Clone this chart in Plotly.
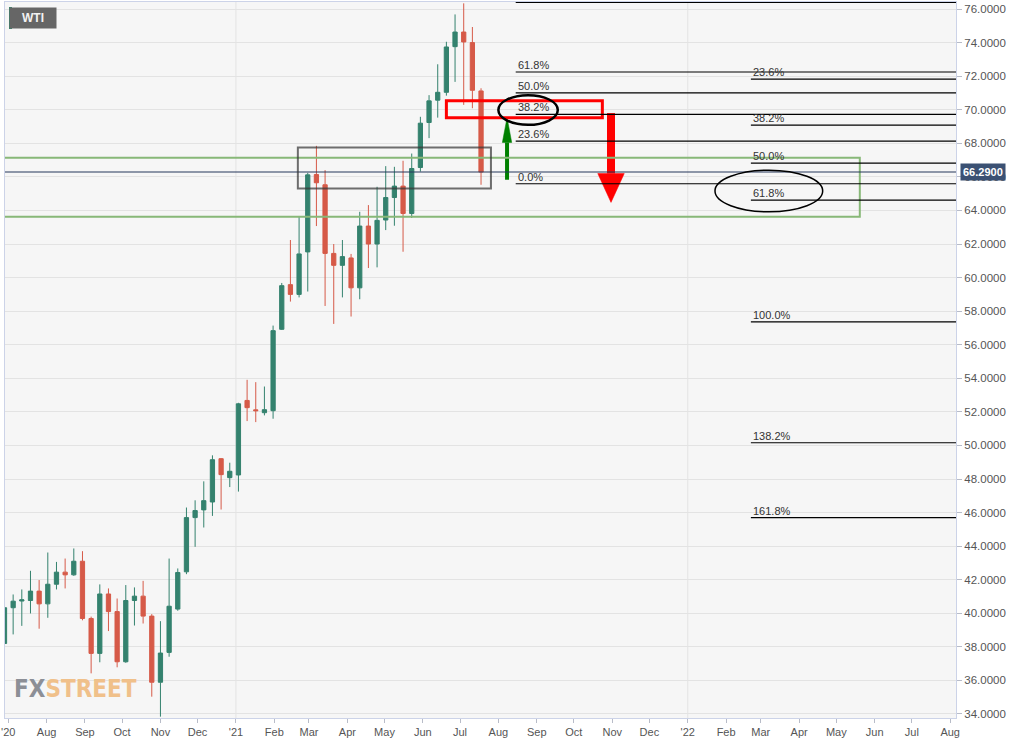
import pandas as pd
import plotly.graph_objects as go

# ---------------- data ----------------
week_start = pd.date_range("2020-06-28", periods=56, freq="7D")

opens = [38.20, 40.33, 40.73, 40.76, 41.32, 40.56, 41.73, 42.45, 42.29, 43.10,
         39.69, 37.61, 41.15, 40.10, 37.11, 40.76, 41.02, 39.83, 35.89, 37.67,
         40.25, 42.47, 45.70, 46.16, 46.63, 49.21, 48.08, 48.24, 52.68, 52.12,
         51.95, 52.07, 56.92, 59.58, 59.00, 61.53, 66.14, 65.53, 61.44, 60.73,
         61.17, 59.39, 63.07, 62.00, 63.43, 64.77, 65.45, 63.82, 66.56, 69.24,
         70.57, 71.04, 73.76, 74.63, 74.00, 71.12]
highs = [40.70, 41.12, 41.42, 42.53, 41.98, 43.62, 43.06, 43.26, 43.86, 43.70,
         39.80, 41.72, 41.48, 40.88, 41.68, 41.54, 41.93, 39.95, 39.53, 43.26,
         42.67, 46.30, 46.73, 47.86, 49.41, 49.25, 48.97, 52.54, 53.91, 53.77,
         53.51, 57.14, 59.68, 62.24, 63.67, 66.24, 67.85, 66.40, 62.00, 62.24,
         61.41, 63.92, 64.32, 65.41, 66.64, 66.60, 66.96, 67.39, 69.58, 70.87,
         72.71, 74.05, 75.68, 76.34, 74.93, 71.28]
lows = [37.60, 38.74, 39.25, 39.99, 39.08, 39.73, 41.42, 41.48, 42.23, 39.58,
        36.42, 37.08, 38.94, 36.78, 37.05, 39.27, 39.39, 35.03, 33.84, 37.41,
        40.15, 42.33, 43.96, 45.11, 45.80, 46.18, 47.52, 47.25, 51.45, 51.39,
        51.79, 51.59, 56.88, 58.57, 58.82, 59.17, 63.07, 58.31, 57.24, 58.82,
        57.68, 58.71, 60.57, 60.61, 62.83, 63.09, 61.54, 63.55, 66.32, 68.31,
        69.53, 70.84, 71.66, 70.29, 70.09, 65.53]
closes = [40.33, 40.72, 40.80, 41.32, 40.56, 41.73, 42.45, 42.29, 43.10, 39.69,
          37.61, 41.15, 40.10, 37.11, 40.76, 41.02, 39.83, 35.89, 37.63, 40.42,
          42.43, 45.70, 46.12, 46.71, 49.15, 48.26, 48.46, 52.48, 52.25, 52.07,
          52.13, 56.84, 59.52, 59.00, 61.41, 66.12, 65.65, 61.44, 60.73, 61.25,
          59.39, 63.07, 62.00, 63.41, 64.77, 65.45, 63.82, 66.50, 69.20, 70.53,
          71.04, 73.74, 74.63, 74.04, 71.16, 66.29]

last_price = 66.29

month_ticks = pd.date_range("2020-07-01", "2022-08-01", freq="MS")
month_labels = ["'20", "Aug", "Sep", "Oct", "Nov", "Dec",
                "'21", "Feb", "Mar", "Apr", "May", "Jun", "Jul", "Aug", "Sep", "Oct", "Nov", "Dec",
                "'22", "Feb", "Mar", "Apr", "May", "Jun", "Jul", "Aug"]
year_marks = ["2021-01-01", "2022-01-01"]

fib_left_labels = ["0.0%", "23.6%", "38.2%", "50.0%", "61.8%", "100.0%"]
fib_left_levels = [65.59, 68.13, 69.73, 71.00, 72.25, 76.39]
fib_left_start = "2021-08-15"

fib_right_labels = ["0.0%", "23.6%", "38.2%", "50.0%", "61.8%", "100.0%", "138.2%", "161.8%"]
fib_right_levels = [76.40, 71.82, 69.08, 66.82, 64.62, 57.36, 50.16, 45.70]
fib_right_start = "2022-02-21"

# drawn zones / annotations (price & date anchors)
support_zone = dict(x0="2020-05-01", x1="2022-05-20", y0=63.63, y1=67.14)
resist_box = dict(x0="2021-02-20", x1="2021-07-26", y0=65.31, y1=67.75)
red_box = dict(x0="2021-06-20", x1="2021-10-24", y0=69.53, y1=70.53)
ellipse_a = dict(x0="2021-08-01", x1="2021-09-18", y0=69.10, y1=70.87)
ellipse_b = dict(x0="2022-01-23", x1="2022-04-20", y0=63.92, y1=66.40)

x_range = ["2020-06-28 10:00", "2022-08-05 17:00"]
y_range = [33.76, 76.42]

GREEN = "#34826e"
RED = "#d65a48"

fig = go.Figure()

fig.add_trace(go.Candlestick(
    x=week_start, open=opens, high=highs, low=lows, close=closes,
    increasing=dict(line=dict(color=GREEN, width=1), fillcolor=GREEN),
    decreasing=dict(line=dict(color=RED, width=1), fillcolor=RED),
    whiskerwidth=0, hoverinfo="skip", showlegend=False,
))

# px -> days conversion for arrow heads
plot_w = 1031 - 1 - 75
days_per_px = (pd.Timestamp(x_range[1]) - pd.Timestamp(x_range[0])) / plot_w


def arrow(xc, y_from, y_neck, y_tip, shaft_px, head_half_px, color):
    xc = pd.Timestamp(xc)
    half = days_per_px * head_half_px
    fig.add_trace(go.Scatter(
        x=[xc, xc], y=[y_from, y_neck], mode="lines",
        line=dict(color=color, width=shaft_px), hoverinfo="skip", showlegend=False))
    fig.add_trace(go.Scatter(
        x=[xc - half, xc + half, xc, xc - half], y=[y_neck, y_neck, y_tip, y_neck],
        mode="lines", fill="toself", fillcolor=color, line=dict(color=color, width=0.5),
        hoverinfo="skip", showlegend=False))


arrow("2021-08-08", 65.83, 68.05, 69.53, 4, 4.7, "#008000")
arrow("2021-10-31", 69.80, 66.20, 64.48, 8, 13.3, "#ff0000")

shapes = []
for d in year_marks:
    shapes.append(dict(type="line", xref="x", yref="paper", x0=d, x1=d, y0=0, y1=1,
                       line=dict(color="#e3e3e3", width=1), layer="below"))

shapes.append(dict(type="rect", xref="x", yref="y", **support_zone,
                   line=dict(color="#88b878", width=2), fillcolor="rgba(0,0,0,0)"))
shapes.append(dict(type="line", xref="paper", yref="y", x0=0, x1=1, y0=last_price, y1=last_price,
                   line=dict(color="#24365a", width=1.2)))
shapes.append(dict(type="rect", xref="x", yref="y", **resist_box,
                   line=dict(color="rgba(55,55,55,0.72)", width=2), fillcolor="rgba(0,0,0,0)"))
shapes.append(dict(type="rect", xref="x", yref="y", **red_box,
                   line=dict(color="#ff0000", width=3), fillcolor="rgba(0,0,0,0)"))

annotations = []
for lbls, lvls, start in [(fib_left_labels, fib_left_levels, fib_left_start),
                          (fib_right_labels, fib_right_levels, fib_right_start)]:
    for t, v in zip(lbls, lvls):
        shapes.append(dict(type="line", xref="x", yref="y", x0=start, x1=x_range[1], y0=v, y1=v,
                           line=dict(color="#000000", width=1.2)))
        annotations.append(dict(x=start, y=v, xref="x", yref="y", text=t, showarrow=False,
                                xanchor="left", yanchor="bottom", yshift=-1,
                                font=dict(family="Liberation Sans, Arial", size=11, color="#333333")))

shapes.append(dict(type="circle", xref="x", yref="y", **ellipse_a,
                   line=dict(color="#000000", width=2.5), fillcolor="rgba(0,0,0,0)"))
shapes.append(dict(type="circle", xref="x", yref="y", **ellipse_b,
                   line=dict(color="#000000", width=1.5), fillcolor="rgba(0,0,0,0)"))

# WTI tag stripe
shapes.append(dict(type="rect", xref="paper", yref="paper", xsizemode="pixel", ysizemode="pixel",
                   xanchor=0, yanchor=1, x0=4, x1=7, y0=-27, y1=-5,
                   fillcolor="#2e8b6e", line=dict(width=0)))

annotations.append(dict(xref="paper", yref="paper", x=0, y=1, xanchor="left", yanchor="top",
                        xshift=4, yshift=-5, text="<b>WTI</b>", showarrow=False,
                        bgcolor="#666666", width=44, height=18, align="center",
                        font=dict(family="Liberation Sans, Arial", size=12, color="#f2f2f2")))

annotations.append(dict(xref="paper", yref="y", x=1, y=last_price, xanchor="left", yanchor="middle",
                        xshift=4, text="<b>66.2900</b>", showarrow=False, bgcolor="#3b5173",
                        borderpad=2,
                        font=dict(family="Liberation Sans, Arial", size=11, color="#ffffff")))

annotations.append(dict(xref="paper", yref="paper", x=0, y=0, xanchor="center", yanchor="bottom",
                        xshift=70, yshift=13,
                        text="<span style='color:#8c8f96'>FX</span><span style='color:#f0c08a'>STREET</span>",
                        showarrow=False,
                        font=dict(family="DejaVu Sans Condensed, Roboto", size=24, weight="bold")))

fig.update_layout(
    width=1031, height=744,
    margin=dict(l=1, r=75, t=1, b=26),
    paper_bgcolor="#ffffff", plot_bgcolor="#f6f6f6",
    showlegend=False, shapes=shapes, annotations=annotations,
    font=dict(family="Liberation Sans, Arial", size=11, color="#555555"),
    hovermode=False,
)
fig.update_xaxes(
    type="date", range=x_range, rangeslider=dict(visible=False),
    tickvals=month_ticks, ticktext=month_labels, showgrid=False,
    ticks="outside", ticklen=4, tickcolor="#b8bcc8", ticklabeloverflow="allow",
    tickfont=dict(size=11, color="#555555"),
    showline=True, linecolor="#ccd3e8", linewidth=1, mirror=True, zeroline=False,
)
fig.update_yaxes(
    side="right", range=y_range, dtick=2, tick0=0, tickformat=".4f",
    gridcolor="#e3e3e3", gridwidth=1, ticks="outside", ticklen=5, tickcolor="#b8bcc8",
    tickfont=dict(size=11.5, color="#555555"),
    showline=True, linecolor="#ccd3e8", linewidth=1, mirror=True, zeroline=False,
)

fig.write_html("out.html", config={"displayModeBar": False},
               post_script="document.body.style.margin='0px';")
